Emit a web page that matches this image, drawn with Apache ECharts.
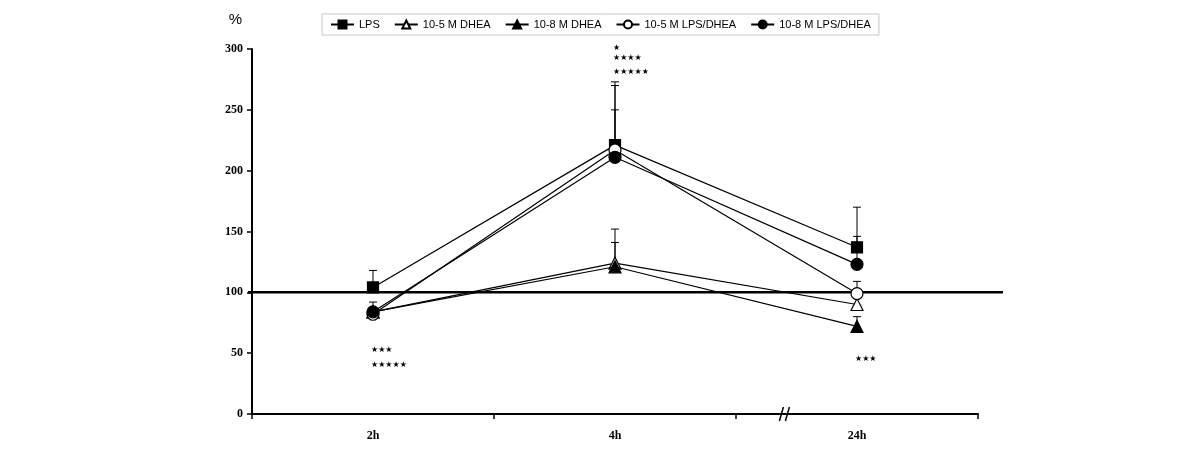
<!DOCTYPE html>
<html><head><meta charset="utf-8">
<script src="https://cdn.jsdelivr.net/npm/echarts@6/dist/echarts.min.js"></script>
<style>html,body{margin:0;padding:0;background:#fff}#c{width:1200px;height:454px}</style>
</head><body><div id="c"></div>
<script>
const categories = ['2h', '4h', '24h'];
const yTicks = [0, 50, 100, 150, 200, 250, 300];
const lpsMean = [104, 221, 137];
const lpsErrTop = [118, 273, 170];
const dhea5Mean = [84, 124, 90];
const dhea5ErrTop = [null, 152, null];
const dhea8Mean = [84, 121, 72];
const dhea8ErrTop = [null, 141, 80];
const lpsDhea5Mean = [82, 217, 99];
const lpsDhea5ErrTop = [null, 250, 109];
const lpsDhea8Mean = [84, 211, 123];
const lpsDhea8ErrTop = [92, 270, 146];
const referenceLevel = 100;
// significance annotations: [category index, value position, text]
const stars = [
  [0, 53, '★★★'], [0, 40.5, '★★★★★'],
  [1, 301, '★'], [1, 293, '★★★★'], [1, 281.5, '★★★★★'],
  [2, 45, '★★★']
];

const seriesDefs = [
  {name: 'LPS', mean: lpsMean, err: lpsErrTop, symbol: 'rect', size: 11, fill: '#000'},
  {name: '10-5 M DHEA', mean: dhea5Mean, err: dhea5ErrTop, symbol: 'triangle', size: 12, fill: '#fff'},
  {name: '10-8 M DHEA', mean: dhea8Mean, err: dhea8ErrTop, symbol: 'triangle', size: 12, fill: '#000'},
  {name: '10-5 M LPS/DHEA', mean: lpsDhea5Mean, err: lpsDhea5ErrTop, symbol: 'circle', size: 12, fill: '#fff'},
  {name: '10-8 M LPS/DHEA', mean: lpsDhea8Mean, err: lpsDhea8ErrTop, symbol: 'circle', size: 12, fill: '#000'}
];

const errData = [];
seriesDefs.forEach(s => s.mean.forEach((m, i) => { if (s.err[i] != null) errData.push([i, m, s.err[i]]); }));

const series = [{
  type: 'custom', name: 'err', z: 1, silent: true,
  renderItem: function (params, api) {
    const p0 = api.coord([api.value(0), api.value(1)]);
    const p1 = api.coord([api.value(0), api.value(2)]);
    return {type: 'group', children: [
      {type: 'line', shape: {x1: p0[0], y1: p0[1], x2: p1[0], y2: p1[1]}, style: {stroke: '#000', lineWidth: 1}},
      {type: 'line', shape: {x1: p1[0] - 4, y1: p1[1], x2: p1[0] + 4, y2: p1[1]}, style: {stroke: '#000', lineWidth: 1}}
    ]};
  },
  encode: {x: 0, y: 1},
  data: errData
}];
seriesDefs.forEach((s, k) => {
  series.push({
    type: 'line', name: s.name, data: s.mean, z: 5 + k,
    symbol: s.symbol, symbolSize: s.size, showAllSymbol: true,
    lineStyle: {color: '#000', width: 1.2},
    itemStyle: {color: s.fill, borderColor: '#000', borderWidth: 1.2, opacity: 1},
    emphasis: {disabled: true}, animation: false
  });
});
series.push({
  type: 'custom', name: 'stars', z: 10, silent: true,
  renderItem: function (params, api) {
    const p = api.coord([api.value(0), api.value(1)]);
    return {type: 'text', x: p[0] - 2, y: p[1], style: {text: stars[params.dataIndex][2], fill: '#000', font: '8px "DejaVu Sans"', textAlign: 'left', textVerticalAlign: 'middle'}};
  },
  encode: {x: 0, y: 1},
  data: stars.map(s => [s[0], s[1]])
});

const chart = echarts.init(document.getElementById('c'), null, {renderer: 'canvas'});
chart.setOption({
  animation: false,
  backgroundColor: '#fff',
  grid: {left: 252, right: 222, top: 49, bottom: 40, containLabel: false},
  legend: {
    data: seriesDefs.map(s => s.name),
    left: 322, top: 14, itemGap: 14, itemWidth: 23, itemHeight: 10,
    padding: [5, 8, 5, 8],
    borderColor: '#c8c8c8', borderWidth: 1, backgroundColor: '#fff',
    textStyle: {fontFamily: 'Liberation Sans', fontSize: 11, color: '#000'},
    selectedMode: false
  },
  xAxis: {
    type: 'category', data: categories, boundaryGap: true,
    axisLine: {lineStyle: {color: '#000', width: 2}},
    axisTick: {show: true, length: 5, lineStyle: {color: '#000', width: 1.5}},
    axisLabel: {fontFamily: 'Liberation Serif', fontWeight: 'bold', fontSize: 12, color: '#000', margin: 16},
    splitLine: {show: false}
  },
  yAxis: {
    type: 'value', min: yTicks[0], max: yTicks[yTicks.length - 1], interval: 50,
    name: '%', nameLocation: 'end', nameGap: 22,
    nameTextStyle: {fontFamily: 'Liberation Sans', fontSize: 15, color: '#000', align: 'right', padding: [0, 10, 0, 0]},
    axisLine: {show: true, lineStyle: {color: '#000', width: 2}},
    axisTick: {show: true, length: 5, lineStyle: {color: '#000', width: 1.5}},
    axisLabel: {fontFamily: 'Liberation Serif', fontWeight: 'bold', fontSize: 12, color: '#000', margin: 9},
    splitLine: {show: false}
  },
  series: series
});

// reference line at 100 (extends slightly past the plot) and axis break mark "//"
const pA = chart.convertToPixel({xAxisIndex: 0}, 1);
const pB = chart.convertToPixel({xAxisIndex: 0}, 2);
const y0 = chart.convertToPixel({yAxisIndex: 0}, 0);
const yRef = chart.convertToPixel({yAxisIndex: 0}, referenceLevel);
const gridRect = chart.getModel().getComponent('grid').coordinateSystem.getRect();
const bx = pA + (pB - pA) * 0.70;
chart.setOption({graphic: [
  {type: 'line', shape: {x1: gridRect.x - 4, y1: yRef, x2: gridRect.x + gridRect.width + 25, y2: yRef}, style: {stroke: '#000', lineWidth: 2.5}, z: 3},
  {type: 'line', shape: {x1: bx - 5, y1: y0 + 7, x2: bx - 1, y2: y0 - 7}, style: {stroke: '#000', lineWidth: 1.5}, z: 20},
  {type: 'line', shape: {x1: bx + 1, y1: y0 + 7, x2: bx + 5, y2: y0 - 7}, style: {stroke: '#000', lineWidth: 1.5}, z: 20}
]});
</script></body></html>
